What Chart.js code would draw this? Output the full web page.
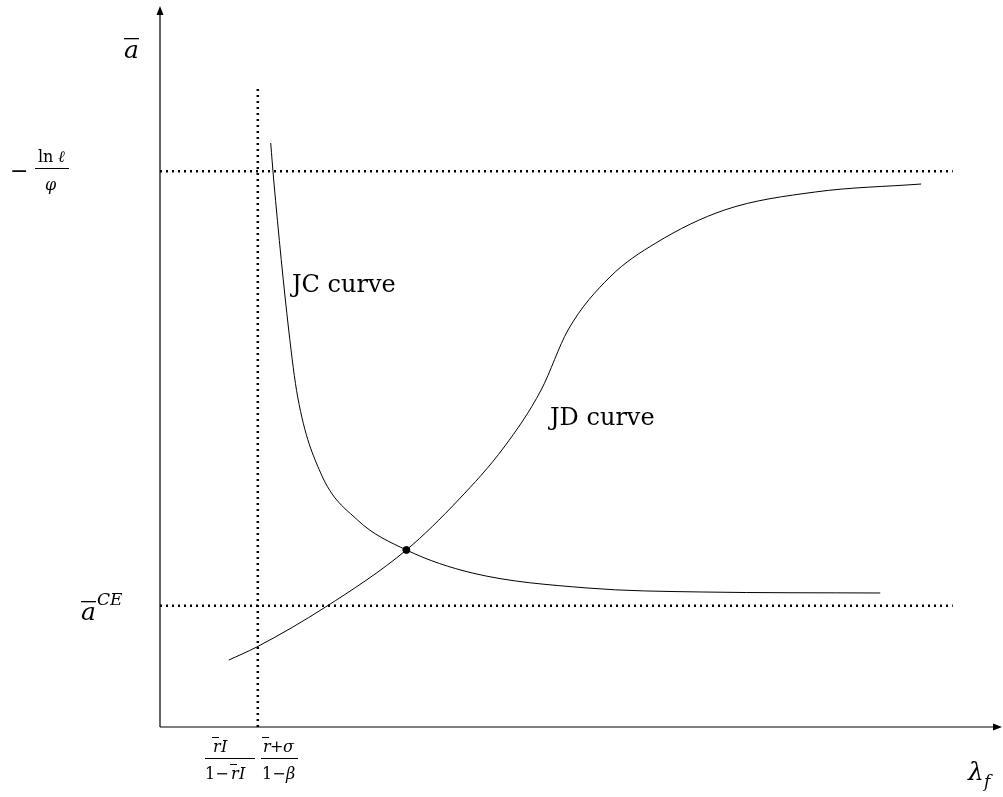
<!DOCTYPE html><html><head><meta charset="utf-8">
<script src="https://cdn.jsdelivr.net/npm/chart.js@4"></script>
<style>body{margin:0;background:#fff}#w{width:1003px;height:797px}</style></head><body><div id="w"><canvas id="c"></canvas></div>
<script>
const jcX=[1.321,1.357,1.536,1.643,1.917,2.357,2.94,3.726,5.095,6.464,8.595];
const jcY=[8.145,7.629,5.537,4.603,3.543,2.887,2.469,2.148,1.939,1.883,1.869];
const jdX=[0.821,1.155,1.976,2.94,3.56,4.107,4.548,4.869,5.369,5.917,6.738,7.821,9.083];
const jdY=[0.934,1.116,1.674,2.469,3.166,3.905,4.7,5.537,6.276,6.75,7.211,7.462,7.573];
const eqX=[2.94], eqY=[2.469];
const vLineX=1.167, hTopY=7.75, hBotY=1.69, dotEnd=9.46;
const pts=(a,b)=>a.map((x,i)=>({x,y:b[i]}));
const F='"DejaVu Serif",serif';
const deco={id:'deco',afterDraw(ch){const c=ch.ctx,x=ch.scales.x,y=ch.scales.y;
 const X=v=>x.getPixelForValue(v),Y=v=>y.getPixelForValue(v);
 c.save();c.strokeStyle='#000';c.fillStyle='#000';c.lineWidth=1.2;
 const ox=X(0),oy=Y(0);
 c.beginPath();c.moveTo(ox,oy);c.lineTo(995,oy);c.moveTo(ox,oy);c.lineTo(ox,14);c.stroke();
 c.beginPath();c.moveTo(1002,oy);c.lineTo(993,oy-3.5);c.lineTo(993,oy+3.5);c.fill();
 c.beginPath();c.moveTo(ox,6);c.lineTo(ox-3.5,15);c.lineTo(ox+3.5,15);c.fill();
 c.lineWidth=2.5;c.setLineDash([2,4]);
 c.beginPath();c.moveTo(X(vLineX),oy);c.lineTo(X(vLineX),Y(8.9));
 c.moveTo(ox,Y(hTopY));c.lineTo(X(dotEnd),Y(hTopY));
 c.moveTo(ox,Y(hBotY));c.lineTo(X(dotEnd),Y(hBotY));c.stroke();c.setLineDash([]);
 c.textBaseline='alphabetic';c.font='24px '+F;
 c.fillText('JC curve',292,292);c.fillText('JD curve',550,425);
 c.font='italic 25px '+F;c.fillText('a',124,58);c.fillRect(124,38,15,1.3);
 c.fillText('λ',968,780);c.font='italic 17px '+F;c.fillText('f',984,787);
 c.font='italic 25px '+F;c.fillText('a',81,620);c.fillRect(81,601,15,1.3);
 c.font='italic 17px '+F;c.fillText('CE',97,605);
 c.font='22px '+F;c.fillText('−',10,178);
 c.font='16px '+F;c.fillText('ln',38,162);c.font='italic 16px '+F;c.fillText('ℓ',58,162);
 c.fillRect(35,168,34,1);c.fillText('φ',45,190);
 c.font='italic 16px '+F;c.fillText('r',213,752);c.fillText('I',221,752);c.fillRect(212,737,7,1);
 c.fillRect(205,758,50,1);c.font='16px '+F;c.fillText('1−',205,779);c.font='italic 16px '+F;c.fillText('r',231,779);c.fillText('I',239,779);c.fillRect(230,764,7,1);
 c.fillText('r',263,752);c.fillRect(262,737,7,1);c.font='16px '+F;c.fillText('+',270,752);c.font='italic 16px '+F;c.fillText('σ',283,752);
 c.fillRect(261,758,37,1);c.font='16px '+F;c.fillText('1−',262,779);c.font='italic 16px '+F;c.fillText('β',286,779);
 c.restore();}};
new Chart(document.getElementById('c'),{type:'scatter',data:{datasets:[
 {data:pts(jcX,jcY),showLine:true,borderColor:'#000',borderWidth:1,pointRadius:0,cubicInterpolationMode:'monotone'},
 {data:pts(jdX,jdY),showLine:true,borderColor:'#000',borderWidth:1,pointRadius:0,cubicInterpolationMode:'monotone'},
 {data:pts(eqX,eqY),pointRadius:3.5,backgroundColor:'#000',borderColor:'#000'}]},
 options:{responsive:true,maintainAspectRatio:false,animation:false,
 layout:{padding:{left:160,right:3,top:10,bottom:70}},
 plugins:{legend:{display:false},tooltip:{enabled:false}},
 scales:{x:{type:'linear',min:0,max:10,display:false},y:{type:'linear',min:0,max:10,display:false}}},
 plugins:[deco]});
</script></body></html>
